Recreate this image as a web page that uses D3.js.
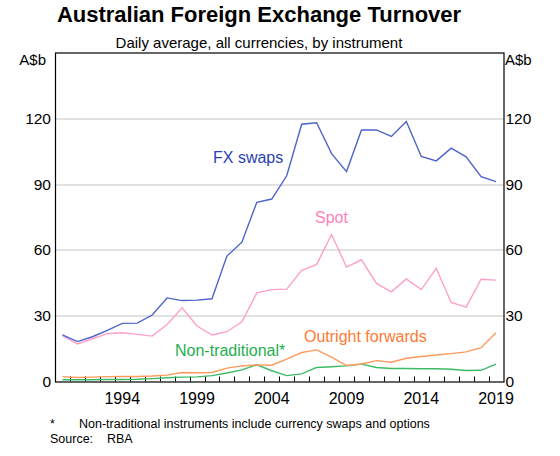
<!DOCTYPE html>
<html>
<head>
<meta charset="utf-8">
<script src="https://cdn.jsdelivr.net/npm/d3@7"></script>
<style>
  body { margin: 0; background: #fff; }
  text { font-family: Arial, "Liberation Sans", sans-serif; }
</style>
</head>
<body>
<div id="chart"></div>
<script>
// data, A$b daily average
var years = d3.range(1990, 2020);
var fxSwaps = [21.3, 18.2, 20.4, 23.3, 26.5, 26.6, 30.3, 38.1, 36.9, 37.1,
               37.7, 57.2, 63.5, 81.7, 83.2, 93.8, 117.3, 118.0, 103.9, 95.7,
               114.7, 114.7, 111.7, 118.5, 102.6, 100.6, 106.4, 102.4, 93.4, 91.1];
var spot = [20.9, 17.1, 19.5, 21.8, 22.2, 21.5, 20.7, 26.0, 33.6, 25.3,
            21.2, 22.7, 27.2, 40.4, 41.9, 42.1, 50.7, 53.4, 67.0, 52.2,
            55.5, 44.7, 40.9, 46.8, 41.9, 51.6, 36.0, 33.9, 46.6, 46.2];
var outrightFwd = [2.2, 1.8, 2.0, 2.2, 2.3, 2.3, 2.5, 2.9, 4.1, 4.0,
                   4.1, 6.1, 7.1, 7.6, 7.4, 10.2, 13.2, 14.4, 11.1, 7.3,
                   8.0, 9.5, 8.8, 10.6, 11.4, 12.1, 12.7, 13.5, 15.4, 22.2];
var nonTrad = [0.8, 0.8, 0.8, 0.9, 0.9, 1.0, 1.3, 1.7, 2.0, 2.1,
               2.7, 3.9, 5.3, 7.6, 4.9, 2.7, 3.5, 6.4, 6.7, 7.1,
               7.9, 6.4, 5.9, 5.9, 5.8, 5.8, 5.6, 5.0, 5.1, 7.9];
var yTicks = [0, 30, 60, 90, 120];
var xLabels = [1994, 1999, 2004, 2009, 2014, 2019];

var series = [
  {name: "FX swaps", values: fxSwaps, color: "#4d63cc", text: "#2a3fb5", lx: 213, ly: 163},
  {name: "Spot", values: spot, color: "#ff9fc9", text: "#ff7fb8", lx: 315, ly: 223},
  {name: "Outright forwards", values: outrightFwd, color: "#ff9a5c", text: "#ff7a33", lx: 304, ly: 342},
  {name: "Non-traditional*", values: nonTrad, color: "#3cbb66", text: "#1faf4f", lx: 175, ly: 356}
];

var W = 560, H = 456;
var margin = {top: 52.5, right: 56.5, bottom: 74.5, left: 55},
    width = W - margin.left - margin.right,
    height = H - margin.top - margin.bottom;

var svg = d3.select("#chart").append("svg")
    .attr("width", W)
    .attr("height", H);

// titles
svg.append("text")
    .attr("x", 259).attr("y", 22)
    .attr("text-anchor", "middle")
    .style("font-size", "22px").style("font-weight", "bold")
    .text("Australian Foreign Exchange Turnover");
svg.append("text")
    .attr("x", 259).attr("y", 48)
    .attr("text-anchor", "middle")
    .style("font-size", "15px")
    .text("Daily average, all currencies, by instrument");

var g = svg.append("g")
    .attr("transform", "translate(" + margin.left + "," + margin.top + ")");

var x = d3.scaleLinear().domain([1990, 2020]).range([0, width]);
var y = d3.scaleLinear().domain([0, 150]).range([height, 0]);

// gridlines
g.selectAll(".grid")
    .data(yTicks.filter(function(d) { return d > 0; }))
  .enter().append("line")
    .attr("x1", 0).attr("x2", width)
    .attr("y1", function(d) { return Math.round(y(d)) + 0.5; })
    .attr("y2", function(d) { return Math.round(y(d)) + 0.5; })
    .style("stroke", "#c4c4c4").style("stroke-width", 1.2);

// y labels both sides
g.selectAll(".ylab")
    .data(yTicks)
  .enter().append("text")
    .attr("x", -4).attr("y", function(d) { return y(d); })
    .attr("dy", "0.35em")
    .attr("text-anchor", "end")
    .style("font-size", "15.5px")
    .text(function(d) { return d; });
g.selectAll(".ylabr")
    .data(yTicks)
  .enter().append("text")
    .attr("x", width + 2).attr("y", function(d) { return y(d); })
    .attr("dy", "0.35em")
    .attr("text-anchor", "start")
    .style("font-size", "15.5px")
    .text(function(d) { return d; });

g.append("text").attr("x", -9).attr("y", 12.5).attr("text-anchor", "end")
    .style("font-size", "15px").text("A$b");
g.append("text").attr("x", width + 1.5).attr("y", 12.5).attr("text-anchor", "start")
    .style("font-size", "15px").text("A$b");

// year ticks, pointing up into the plot
g.selectAll(".xtick")
    .data(d3.range(1991, 2020))
  .enter().append("line")
    .attr("x1", function(d) { return Math.round(x(d)) + 0.5; })
    .attr("x2", function(d) { return Math.round(x(d)) + 0.5; })
    .attr("y1", height).attr("y2", height - 5)
    .style("stroke", "#000").style("stroke-width", 1);

g.selectAll(".xlab")
    .data(xLabels)
  .enter().append("text")
    .attr("x", function(d) { return x(d + 0.5); })
    .attr("y", height + 22)
    .attr("text-anchor", "middle")
    .style("font-size", "16px")
    .text(function(d) { return d; });

// lines
var line = d3.line()
    .x(function(d, i) { return x(years[i] + 0.5); })
    .y(function(d) { return y(d); });

series.slice().reverse().forEach(function(s) {
  g.append("path")
      .datum(s.values)
      .attr("d", line)
      .style("fill", "none")
      .style("stroke", s.color)
      .style("stroke-width", 1.4);
});

series.forEach(function(s) {
  svg.append("text")
      .attr("x", s.lx).attr("y", s.ly)
      .style("font-size", "16px")
      .style("fill", s.text)
      .text(s.name);
});

// frame
g.append("rect")
    .attr("x", 0.5).attr("y", 0.5)
    .attr("width", width).attr("height", height)
    .style("fill", "none").style("stroke", "#000").style("stroke-width", 1.2);

// notes
svg.append("text").attr("x", 50).attr("y", 428).style("font-size", "12.5px").text("*");
svg.append("text").attr("x", 79).attr("y", 428).style("font-size", "12.5px")
    .text("Non-traditional instruments include currency swaps and options");
svg.append("text").attr("x", 50).attr("y", 443).style("font-size", "12.5px").text("Source:");
svg.append("text").attr("x", 107).attr("y", 443).style("font-size", "12.5px").text("RBA");
</script>
</body>
</html>
